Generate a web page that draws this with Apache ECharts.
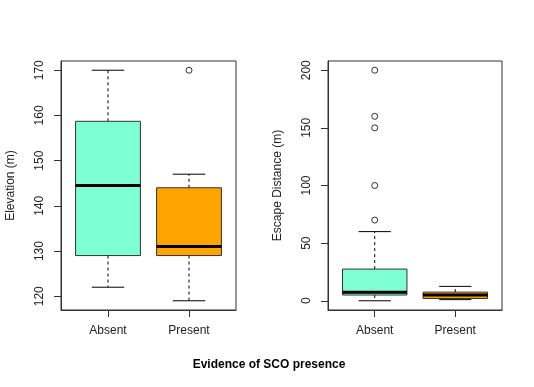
<!DOCTYPE html>
<html>
<head>
<meta charset="utf-8">
<script src="https://cdn.jsdelivr.net/npm/echarts@6/dist/echarts.min.js"></script>
<style>
html,body{margin:0;padding:0;background:#fff;}
#chart{width:534px;height:387px;}
</style>
</head>
<body>
<div id="chart"></div>
<script>
// ---- data ----
const categories = ['Absent', 'Present'];
// [lower whisker, Q1, median, Q3, upper whisker]
const elevStats = [[122, 129, 144.5, 158.7, 170], [119, 129, 131, 144, 147]];
const elevOutliers = [[2, 170]];
const distStats = [[0, 5, 7.5, 27.5, 60], [1, 2, 5, 7.5, 12.5]];
const distOutliers = [[1, 70], [1, 100], [1, 150], [1, 160], [1, 200]];
const boxColors = ['#7FFFD4', '#FFA500'];
const elevTicks = [120, 130, 140, 150, 160, 170];
const distTicks = [0, 50, 100, 150, 200];
const catTicks = [1, 2];
const elevTitle = 'Elevation (m)';
const distTitle = 'Escape Distance (m)';
const xTitle = 'Evidence of SCO presence';

const FONT = "'Liberation Sans', Arial, sans-serif";
const TXT = '#222';
const LINE = '#333';

function renderBox(params, api) {
  const x = api.value(0);
  const mn = api.value(1), q1 = api.value(2), md = api.value(3), q3 = api.value(4), mx = api.value(5);
  const half = api.size([0.4, 0])[0];
  const cap = api.size([0.2, 0])[0];
  const cx = api.coord([x, md])[0];
  const y = v => api.coord([x, v])[1];
  const col = boxColors[params.dataIndex];
  const dash = { stroke: '#000', lineWidth: 1, lineDash: [3, 3] };
  const solid = { stroke: '#000', lineWidth: 1 };
  return {
    type: 'group',
    children: [
      { type: 'line', shape: { x1: cx, y1: y(q3), x2: cx, y2: y(mx) }, style: dash },
      { type: 'line', shape: { x1: cx, y1: y(q1), x2: cx, y2: y(mn) }, style: dash },
      { type: 'line', shape: { x1: cx - cap, y1: y(mx), x2: cx + cap, y2: y(mx) }, style: solid },
      { type: 'line', shape: { x1: cx - cap, y1: y(mn), x2: cx + cap, y2: y(mn) }, style: solid },
      { type: 'rect', shape: { x: cx - half, y: y(q3), width: 2 * half, height: y(q1) - y(q3) },
        style: { fill: col, stroke: LINE, lineWidth: 1 } },
      { type: 'line', shape: { x1: cx - half, y1: y(md), x2: cx + half, y2: y(md) },
        style: { stroke: '#000', lineWidth: 3 } }
    ]
  };
}

function xAxisOpt(gi) {
  return {
    gridIndex: gi, type: 'value', min: 0.42, max: 2.58,
    axisLine: { show: true, onZero: false, lineStyle: { color: LINE } },
    axisTick: { show: true, customValues: catTicks, length: 7, lineStyle: { color: LINE } },
    axisLabel: { customValues: catTicks, formatter: v => categories[Math.round(v) - 1],
      fontFamily: FONT, fontSize: 12, color: TXT, margin: 15 },
    splitLine: { show: false }
  };
}
function yAxisOpt(gi, min, max, ticks, name) {
  return {
    gridIndex: gi, type: 'value', min: min, max: max,
    name: name, nameLocation: 'middle', nameGap: 44, nameRotate: 90,
    nameTextStyle: { fontFamily: FONT, fontSize: 12, color: TXT },
    axisLine: { show: true, onZero: false, lineStyle: { color: LINE } },
    axisTick: { show: true, customValues: ticks, length: 7, lineStyle: { color: LINE } },
    axisLabel: { customValues: ticks, rotate: 90, fontFamily: FONT, fontSize: 12, color: TXT, margin: 15 },
    splitLine: { show: false }
  };
}

const chart = echarts.init(document.getElementById('chart'), null, { renderer: 'canvas' });
chart.setOption({
  animation: false,
  backgroundColor: '#fff',
  grid: [
    { left: 61, top: 61, width: 175, height: 249, show: true, borderColor: LINE, borderWidth: 1, backgroundColor: 'transparent' },
    { left: 328, top: 61, width: 174, height: 249, show: true, borderColor: LINE, borderWidth: 1, backgroundColor: 'transparent' }
  ],
  xAxis: [xAxisOpt(0), xAxisOpt(1)],
  yAxis: [
    yAxisOpt(0, 116.96, 172.04, elevTicks, elevTitle),
    yAxisOpt(1, -8, 208, distTicks, distTitle)
  ],
  graphic: [{
    type: 'text', x: 269, y: 365,
    style: { text: xTitle, font: 'bold 12px ' + FONT, fill: '#000', align: 'center', verticalAlign: 'middle' }
  }],
  series: [
    { type: 'custom', xAxisIndex: 0, yAxisIndex: 0, renderItem: renderBox,
      encode: { x: 0, y: [1, 2, 3, 4, 5] },
      data: elevStats.map((s, i) => [catTicks[i]].concat(s)) },
    { type: 'custom', xAxisIndex: 1, yAxisIndex: 1, renderItem: renderBox,
      encode: { x: 0, y: [1, 2, 3, 4, 5] },
      data: distStats.map((s, i) => [catTicks[i]].concat(s)) },
    { type: 'scatter', xAxisIndex: 0, yAxisIndex: 0, data: elevOutliers, symbol: 'circle', symbolSize: 6,
      itemStyle: { color: 'rgba(0,0,0,0)', borderColor: '#000', borderWidth: 1 } },
    { type: 'scatter', xAxisIndex: 1, yAxisIndex: 1, data: distOutliers, symbol: 'circle', symbolSize: 6,
      itemStyle: { color: 'rgba(0,0,0,0)', borderColor: '#000', borderWidth: 1 } }
  ]
});
</script>
</body>
</html>
